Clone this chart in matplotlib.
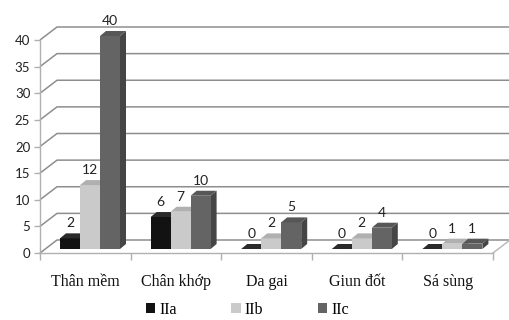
import matplotlib
matplotlib.use("Agg")
import matplotlib.pyplot as plt
from matplotlib.patches import Polygon, Rectangle, Patch

categories = ["Thân mềm", "Chân khớp", "Da gai", "Giun đốt", "Sá sùng"]
series_names = ["IIa", "IIb", "IIc"]
values_IIa = [2, 6, 0, 0, 0]
values_IIb = [12, 7, 2, 2, 1]
values_IIc = [40, 10, 5, 4, 1]
y_ticks = [0, 5, 10, 15, 20, 25, 30, 35, 40]

series_values = [values_IIa, values_IIb, values_IIc]
front_colors = ["#121212", "#cacaca", "#646464"]
side_colors = ["#000000", "#a6a6a6", "#454545"]
top_colors = ["#2a2a2a", "#b0b0b0", "#575757"]

W, H, DPI = 509, 320, 100
fig = plt.figure(figsize=(W / DPI, H / DPI), dpi=DPI)
fig.patch.set_facecolor("white")

# front plane of the plot box, in pixels
left_px, right_px, base_px, top_px = 40, 493, 253, 40
ax = fig.add_axes([left_px / W, (H - base_px) / H,
                   (right_px - left_px) / W, (base_px - top_px) / H])
ax.set_xlim(0, len(categories))
ax.set_ylim(0, 40)
ax.patch.set_visible(False)

px_x = len(categories) / (right_px - left_px)   # data units per pixel, x
px_y = 40 / (base_px - top_px)                   # data units per pixel, y

# wall depth
DX, DY = 17 * px_x, 13 * px_y
grid_col = "#8e8e8e"
for v in y_ticks:
    ax.plot([0, DX, len(categories) + DX], [v, v + DY, v + DY],
            color=grid_col, lw=1.1, clip_on=False, zorder=1,
            solid_capstyle="butt")
# floor right edge
ax.plot([len(categories), len(categories) + DX], [0, DY], color="#b5b5b5",
        lw=1.0, clip_on=False, zorder=1)

# axes lines and ticks
for side in ["top", "right"]:
    ax.spines[side].set_visible(False)
for side in ["left", "bottom"]:
    ax.spines[side].set_color("#b0b0b0")
    ax.spines[side].set_linewidth(1.0)
ax.set_yticks(y_ticks)
ax.set_yticklabels([str(t) for t in y_ticks], family="Lato", fontsize=9.5,
                   color="#222222")
ax.tick_params(axis="y", length=4, width=1.0, color="#b0b0b0", pad=3)
ax.set_xticks(range(len(categories) + 1))
ax.set_xticklabels([])
ax.tick_params(axis="x", which="major", length=5, width=1.0, color="#b0b0b0")
ax.set_xticks([i + 0.5 for i in range(len(categories))], minor=True)
ax.set_xticklabels(categories, minor=True, family="Liberation Serif",
                   fontsize=11.5, color="#111111")
ax.tick_params(axis="x", which="minor", length=0, pad=15)

# 3D-style bars
bw = 20 * px_x
group_start = 20 * px_x
lift = 4 * px_y
ddx, ddy = 6 * px_x, 5 * px_y
z = 3
for i in range(len(categories)):
    for j, vals in enumerate(series_values):
        v = vals[i]
        x0 = i + group_start + j * bw
        b = lift
        t = lift + v
        ax.add_patch(Polygon([(x0 + bw, b), (x0 + bw + ddx, b + ddy),
                              (x0 + bw + ddx, t + ddy), (x0 + bw, t)],
                             closed=True, facecolor=side_colors[j],
                             edgecolor="none", zorder=z, clip_on=False))
        ax.add_patch(Rectangle((x0, b), bw, v, facecolor=front_colors[j],
                               edgecolor="none", zorder=z + 0.1,
                               clip_on=False))
        ax.add_patch(Polygon([(x0, t), (x0 + ddx, t + ddy),
                              (x0 + bw + ddx, t + ddy), (x0 + bw, t)],
                             closed=True, facecolor=top_colors[j],
                             edgecolor="none", zorder=z + 0.2,
                             clip_on=False))
        ax.annotate(str(v), (x0 + bw / 2, t + ddy), xytext=(0, 3),
                    textcoords="offset points", ha="center", va="bottom",
                    family="Lato", fontsize=10, color="#222222",
                    annotation_clip=False, zorder=10)
        z += 1

# legend
handles = [Patch(facecolor=c, edgecolor="none") for c in front_colors]
fig.legend(handles, series_names, loc="center", ncol=3, frameon=False,
           bbox_to_anchor=(0.486, 10 / H), prop={"family": "Liberation Serif",
                                                 "size": 11.5},
           handlelength=0.6, handleheight=0.6, handletextpad=0.25,
           columnspacing=3.4, borderaxespad=0)

fig.savefig("out.png", dpi=DPI, facecolor="white")
